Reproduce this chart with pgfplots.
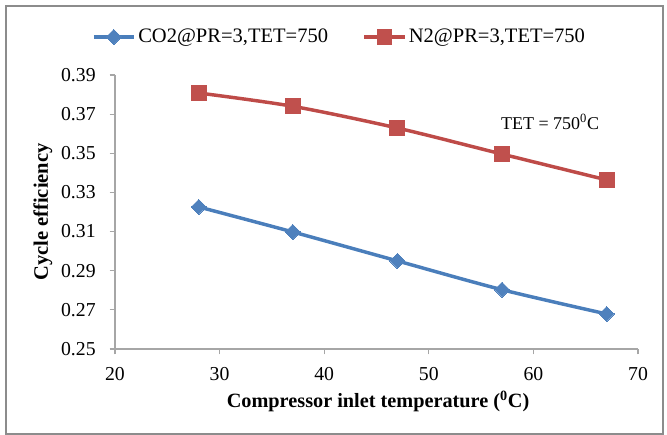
\documentclass[border=0pt]{standalone}
\usepackage{fontspec}
\setmainfont{Liberation Serif}
\usepackage{pgfplots}
\pgfplotsset{compat=1.18}

\definecolor{xlblue}{HTML}{4A7EBB}
\definecolor{xlbluefill}{HTML}{4F81BD}
\definecolor{xlred}{HTML}{BE4B48}
\definecolor{xlredfill}{HTML}{C0504D}
\definecolor{xlaxis}{HTML}{A6A6A6}
\definecolor{xlframe}{HTML}{8C8C8C}

\begin{document}
\begin{tikzpicture}
% page = 667x435 px at 0.75pt/px, axis box lower-left at px (115,349)
\path[use as bounding box] (-86.25pt,-64.5pt) rectangle (414pt,261.75pt);
\draw[xlframe, line width=1pt] (-81.75pt,-63.75pt) rectangle (411pt,257.25pt);

\begin{axis}[
  at={(0,0)}, anchor=south west,
  scale only axis,
  width=392.25pt,
  height=205.5pt,
  xmin=20, xmax=70,
  ymin=0.25, ymax=0.39,
  xtick={20,30,...,70},
  ytick={0.25,0.27,...,0.39},
  axis x line*=bottom,
  axis y line*=left,
  axis line style={xlaxis, line width=0.8pt, -},
  tick style={xlaxis, line width=0.8pt},
  tick align=outside,
  major tick length=4pt,
  minor tick num=0,
  /pgf/number format/assume math mode=true,
  yticklabel style={/pgf/number format/.cd, fixed, fixed zerofill, precision=2, /tikz/.cd, xshift=-7pt},
  xticklabel style={yshift=-6pt},
  ticklabel style={font=\fontsize{14.8}{16}\selectfont},
  xlabel={\textbf{Compressor inlet temperature (\textsuperscript{0}C)}},
  ylabel={\textbf{Cycle efficiency}},
  xlabel style={at={(axis description cs:0.503,-0.193)}, anchor=center, font=\fontsize{15.2}{17}\selectfont},
  ylabel style={at={(axis description cs:-0.1377,0.5)}, anchor=center, font=\fontsize{15.4}{17}\selectfont},
  legend style={at={(axis description cs:0.43,1.139)}, anchor=center, draw=none,
    font=\fontsize{15.4}{17}\selectfont, /tikz/every even column/.append style={column sep=24pt}},
  legend columns=2,
  legend cell align=left,
  legend image code/.code={\draw[mark repeat=2, mark phase=2] plot coordinates {(0pt,0pt) (15pt,0pt) (30pt,0pt)};},
  clip=false,
]

\addplot[xlblue, line width=2.6pt, smooth, tension=0.5,
  mark=square*, mark size=4pt, mark options={rotate=45, fill=xlbluefill, draw=xlbluefill, line width=0pt}]
  coordinates {(28,0.3226) (37,0.3098) (47,0.2950) (57,0.2803) (67,0.2679)};
\addlegendentry{CO2@PR=3,TET=750}

\addplot[xlred, line width=2.6pt, smooth, tension=0.5,
  mark=square*, mark size=5.6pt, mark options={fill=xlredfill, draw=xlredfill, line width=0pt}]
  coordinates {(28,0.3808) (37,0.3740) (47,0.3629) (57,0.3496) (67,0.3364)};
\addlegendentry{N2@PR=3,TET=750}

\node[font=\fontsize{13.5}{15}\selectfont] at (axis cs:61.6,0.3661) {TET = 750\textsuperscript{0}C};

\end{axis}
\end{tikzpicture}
\end{document}
